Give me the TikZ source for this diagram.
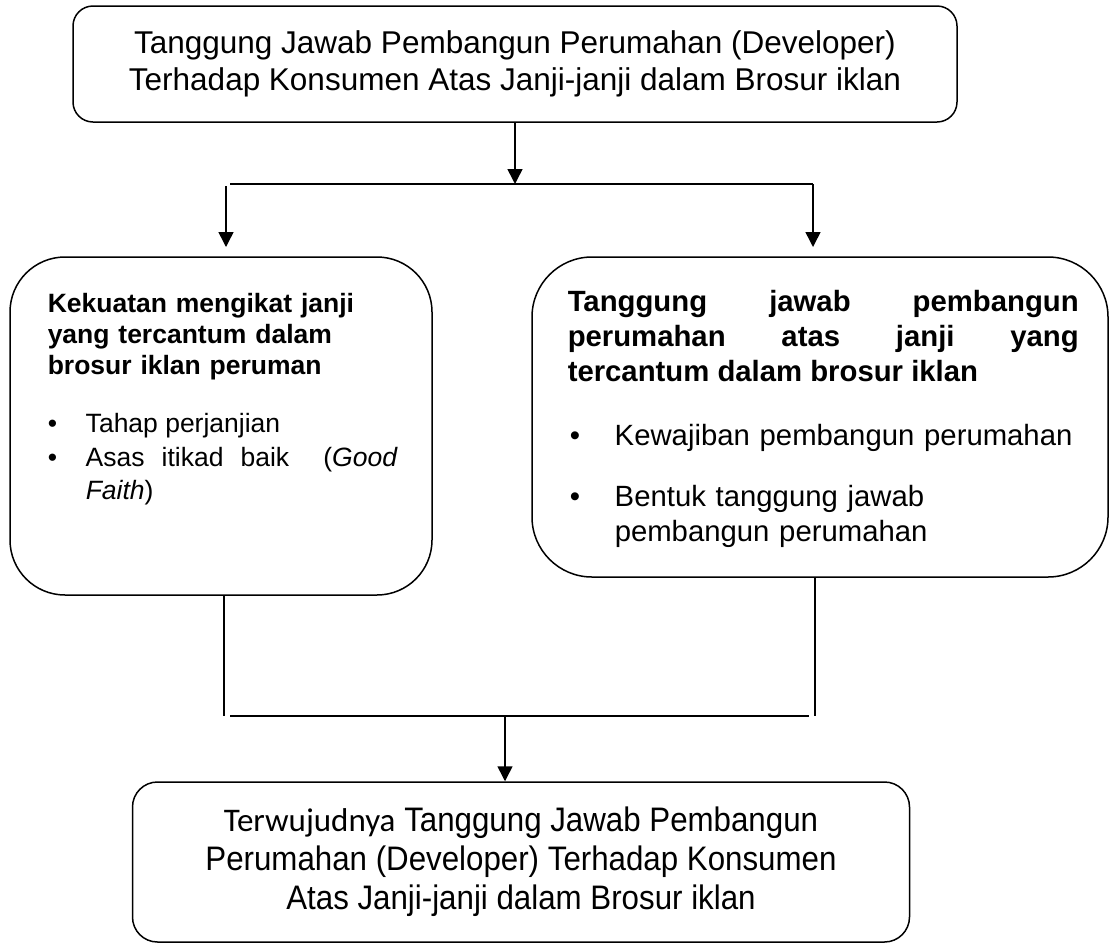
\documentclass[tikz,border=0pt]{standalone}
\usepackage{fontspec}
\setmainfont{Liberation Sans}
\newfontfamily\calfont{Carlito}
\newfontfamily\narrowfont{Liberation Sans}[FakeStretch=0.92]
\usetikzlibrary{arrows.meta}
\hyphenpenalty=10000

\newcommand{\bitem}[2][38pt]{\hangindent=#1\hangafter=1\noindent\makebox[#1][l]{\textbullet}#2\par}

\begin{document}
\begin{tikzpicture}[x=1pt, y=-1pt, line width=1.5pt,
  >={Triangle[length=15pt,width=15pt]},
  roundbox/.style={draw, inner sep=0pt},
  txt/.style={inner sep=0pt, anchor=north west}]
  \useasboundingbox (0,0) rectangle (1111,946);

  % boxes
  \node[roundbox, rounded corners=20pt, minimum width=884pt, minimum height=116pt,
    align=center, font=\fontsize{31.5}{37}\selectfont] (top) at (515,64)
    {Tanggung Jawab Pembangun Perumahan (Developer)\\Terhadap Konsumen Atas Janji-janji dalam Brosur iklan};
  \node[roundbox, rounded corners=55pt, minimum width=422pt, minimum height=338pt] (lbox) at (221,426) {};
  \node[roundbox, rounded corners=60pt, minimum width=576pt, minimum height=320pt] (rbox) at (820,417) {};
  \node[roundbox, rounded corners=25pt, minimum width=777pt, minimum height=160pt,
    align=center, font=\fontsize{34}{39}\narrowfont] (bottom) at (521,862)
    {{\fontsize{33}{39}\calfont Terwujudnya} Tanggung Jawab Pembangun\\Perumahan (Developer) Terhadap Konsumen\\Atas Janji-janji dalam Brosur iklan};

  % texts of the two middle boxes
  \node[txt, text width=350pt, align=left, font=\fontsize{26.5}{31}\selectfont\bfseries] (ltitle) at (47,293)
    {Kekuatan mengikat janji\\yang tercantum dalam\\brosur iklan peruman};
  \node[txt, text width=350pt, align=justify, font=\fontsize{26.5}{33.5}\selectfont] (llist) at (47,413)
    {\bitem{Tahap perjanjian}\bitem{Asas itikad baik\ \ (\textit{Good}\linebreak\textit{Faith})}};
  \node[txt, text width=511pt, align=justify, font=\fontsize{29.3}{35}\selectfont\bfseries] (rtitle) at (567,290)
    {Tanggung jawab pembangun\linebreak perumahan atas janji yang\linebreak tercantum dalam brosur iklan};
  \node[txt, text width=530pt, align=left, font=\fontsize{29.3}{35}\selectfont] (rlist) at (569,424)
    {\bitem[45pt]{Kewajiban pembangun perumahan}\vspace{26pt}\bitem[45pt]{Bentuk tanggung jawab\hfil\break pembangun perumahan}};

  % connectors
  \coordinate (split) at (515,184);
  \coordinate (sl) at (226,184);
  \coordinate (sr) at (813,184);
  \coordinate (lin) at (226,247);
  \coordinate (rin) at (813,247);
  \coordinate (ml) at (224,716);
  \coordinate (mr) at (815,716);
  \coordinate (mc) at (505,716);

  \draw[->] (top) -- (split);
  \draw[shorten <=4pt] (sl) -- (sr);
  \draw[->, shorten <=2pt] (sl) -- (lin);
  \draw[->] (sr) -- (rin);
  \draw (lbox.south -| ml) -- (ml);
  \draw (rbox.south -| mr) -- (mr);
  \draw[shorten <=6pt, shorten >=6pt] (ml) -- (mr);
  \draw[->] (mc) -- (bottom.north -| mc);
\end{tikzpicture}
\end{document}
